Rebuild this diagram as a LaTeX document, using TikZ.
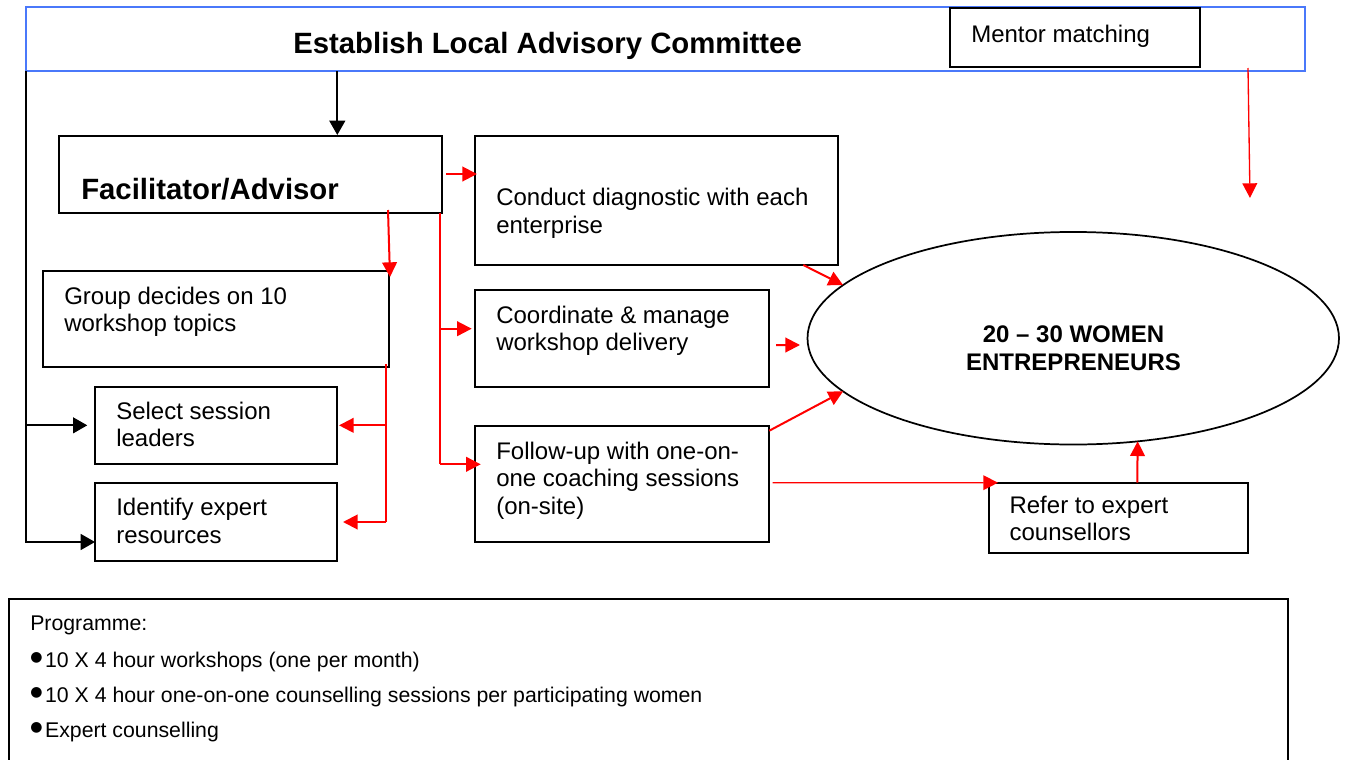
\documentclass[tikz,border=0pt]{standalone}
\usepackage{fontspec}
\setmainfont{Liberation Sans}
\newfontfamily\dejavu{DejaVu Sans}
\usetikzlibrary{arrows.meta,calc,fit,shapes.geometric}
\definecolor{ttlblue}{RGB}{74,120,250}
\definecolor{arrred}{RGB}{255,0,0}
\newcommand\boxfont{\fontsize{18pt}{20.6pt}\selectfont}
\newcommand\bigbold{\fontsize{22pt}{26pt}\selectfont\bfseries}
\newcommand\ellfont{\fontsize{18pt}{21pt}\selectfont\bfseries}
\newcommand\progfont{\fontsize{15.95pt}{19pt}\selectfont}
\newcommand\bul{\raisebox{4.2pt}{\dejavu\fontsize{10.5pt}{10.5pt}\selectfont ●}\hspace{2pt}}
\begin{document}
\begin{tikzpicture}[x=0.75pt,y=-0.75pt,
  box/.style={draw=black,line width=1.3pt,inner sep=0pt,outer sep=0pt},
  ttlbox/.style={draw=ttlblue,line width=1.4pt,inner sep=0pt,outer sep=0pt},
  txt/.style={inner sep=0pt,align=left,font=\boxfont,anchor=base west},
  redarrow/.style={draw=arrred,line width=1.5pt,-{Triangle[length=11pt,width=11pt]}},
  redthin/.style={draw=arrred,line width=1pt,-{Triangle[length=11pt,width=11pt]}},
  redline/.style={draw=arrred,line width=1.5pt},
  blkarrow/.style={draw=black,line width=1.5pt,-{Triangle[length=10.7pt,width=11.8pt]}},
]
\useasboundingbox[fill=white] (0,0) rectangle (1347,760);

% boxes
\node[ttlbox, fit={(25.7,6.7) (1305,71.3)}] (title) {};
\node[box, fit={(950,8) (1200,67)}] (mentor) {};
\node[box, fit={(59.3,136) (441.7,212.7)}] (fac) {};
\node[box, fit={(475,136) (838,265)}] (conduct) {};
\node[box, fit={(475,290) (769.3,386.7)}] (coord) {};
\node[box, fit={(475,425.7) (769.3,541.7)}] (follow) {};
\node[box, fit={(42.7,271) (389.3,367.3)}] (group) {};
\node[box, fit={(95,386.7) (337.3,464)}] (select) {};
\node[box, fit={(95,483.3) (337.3,560.7)}] (identify) {};
\node[box, fit={(988.7,482.7) (1248,553.3)}] (refer) {};
\node[ellipse, draw=black, line width=1.3pt, inner sep=0pt, outer sep=0pt,
      minimum width=398.6pt, minimum height=159.4pt] (women) at (1073.25,338.25) {};
\node[box, fit={(9,599) (1288,775)}] (prog) {};

% texts (base anchor = baseline of the last line)
\node[txt, font=\bigbold] (titleT) at (293,53.3) {Establish Local Advisory Committee};
\node[txt] (mentorT) at (971,42) {Mentor matching};
\node[txt, font=\bigbold] (facT) at (81,199.3) {Facilitator/Advisor};
\node[txt] (conductT) at (496,233.3) {Conduct diagnostic with each\\enterprise};
\node[txt] (coordT) at (496,350.7) {Coordinate \& manage\\workshop delivery};
\node[txt] (followT) at (496,514) {Follow-up with one-on-\\one coaching sessions\\(on-site)};
\node[txt] (groupT) at (64,331.7) {Group decides on 10\\workshop topics};
\node[txt] (selectT) at (116,446.7) {Select session\\leaders};
\node[txt] (identifyT) at (116,543.3) {Identify expert\\resources};
\node[txt] (referT) at (1009.3,540.5) {Refer to expert\\counsellors};
\node[inner sep=0pt, align=center, font=\ellfont, anchor=base] (womenT) at (1073.5,370) {20 – 30 WOMEN\\ENTREPRENEURS};
\node[txt, font=\progfont] (p0) at (30,630) {Programme:};
\node[txt, font=\progfont] (p1) at (30,667) {\bul 10 X 4 hour workshops (one per month)};
\node[txt, font=\progfont] (p2) at (30,702) {\bul 10 X 4 hour one-on-one counselling sessions per participating women};
\node[txt, font=\progfont] (p3) at (30,737) {\bul Expert counselling};

% black connectors
\draw[blkarrow] ($(title.south west)+(311.6,0)$) -- ($(fac.north west)+(278,-1)$);
\draw[blkarrow] (title.south west) |- ($(identify.west)+(0,20)$);
\draw[blkarrow] ($(select.west)+(-67.7,0)$) -- ($(select.west)+(-7.7,0)$);

% red connectors from facilitator
\draw[redarrow] ($(fac.north east)+(4.3,38)$) -- ($(conduct.north west)+(2,38)$);
\draw[redarrow] ($(fac.south west)+(328.7,-2.7)$) -- ($(group.north east)+(0.7,6)$);
\coordinate (fbus) at ($(fac.south east)+(-1.7,0)$);
\coordinate (cbt) at ($(coord.north west)+(-3.3,38.7)$);
\coordinate (fbt) at ($(follow.north west)+(5.7,38.6)$);
\draw[redline] (fbus) -- (fbus |- fbt);
\draw[redarrow] (fbus |- cbt) -- (cbt);
\draw[redarrow] (fbus |- fbt) -- (fbt);

% red connectors from group
\coordinate (gbus) at ($(group.south east)+(-3.3,-3.3)$);
\draw[redline] (gbus) -- (gbus |- identify.east);
\draw[redarrow] (gbus |- select.east) -- ($(select.east)+(1.7,0)$);
\draw[redarrow] (gbus |- identify.east) -- ($(identify.east)+(5.7,0)$);

% red connectors to women
\draw[redarrow] ($(conduct.south east)+(-34.7,0)$) -- (women.167.5);
\draw[redarrow] ($(coord.east)+(6.7,6.65)$) -- ($(women.west)+(-7.5,6.75)$);
\draw[redarrow] ($(follow.north east)+(0,5)$) -- (women.193.95);
\draw[redthin] ($(follow.east)+(3.4,-1)$) -- ($(refer.north west)+(9.3,0)$);
\draw[redarrow] ($(refer.north west)+(148.6,0)$) -- (women.-58.2);

% mentor matching arrow
\coordinate (mEnd) at (1250,198);
\draw[redthin] ($(title.south east)+(-57,-3.3)$) -- (mEnd);
\end{tikzpicture}
\end{document}
